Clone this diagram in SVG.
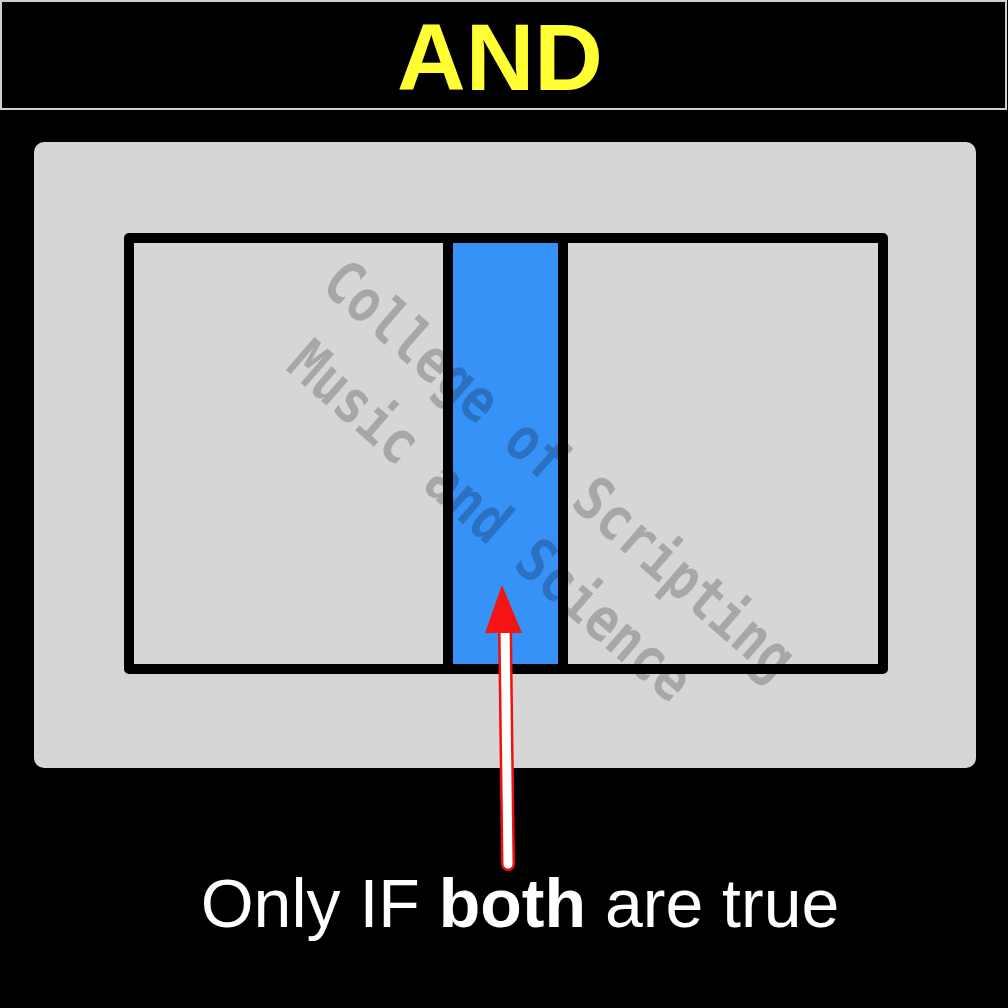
<svg xmlns="http://www.w3.org/2000/svg" width="1008" height="1008" viewBox="0 0 1008 1008">
<style>
.box{fill:none;stroke:#000;stroke-width:10;stroke-linejoin:round}
.wm{font-family:"DejaVu Sans Mono",monospace;font-weight:bold;font-size:50px;fill:#000;fill-opacity:0.22}
.lbl{font-family:"Liberation Sans",Arial,sans-serif;font-size:68px;fill:#fff}
</style>
<rect x="0" y="0" width="1008" height="1008" fill="#000"/>
<g id="header">
<rect x="1" y="1" width="1005" height="108" fill="#000" stroke="#cfcfcf" stroke-width="2"/>
<text x="500" y="90" text-anchor="middle" font-family="Liberation Sans, Arial, sans-serif" font-weight="bold" font-size="95" fill="#ffff33">AND</text>
</g>
<g id="panel">
<rect x="34" y="142" width="942" height="626" rx="10" fill="#d6d6d6"/>
</g>
<g id="intersection">
<rect x="448" y="238" width="115" height="431" fill="#3792f8"/>
</g>
<g id="setA">
<path class="box" d="M563 238 H129 V669 H563"/>
</g>
<g id="setB">
<path class="box" d="M448 238 H883 V669 H448"/>
<line class="box" x1="448" y1="238" x2="448" y2="669"/>
<line class="box" x1="563" y1="238" x2="563" y2="669"/>
</g>
<g id="watermark" transform="translate(343,283) rotate(41) scale(1,1.2)">
<text class="wm" x="-15" y="16">College of Scripting</text>
<text class="wm" x="12" y="86">Music and Science</text>
</g>
<g id="connectors">
<line x1="508" y1="864" x2="505" y2="628" stroke="#f01010" stroke-width="14" stroke-linecap="round"/>
<line x1="508" y1="864" x2="505" y2="626" stroke="#fff" stroke-width="9" stroke-linecap="round"/>
<polygon points="502,585 485,633 522,633" fill="#f41414"/>
</g>
<g id="label">
<text class="lbl" x="520" y="927" text-anchor="middle">Only IF <tspan font-weight="bold">both</tspan> are true</text>
</g>
</svg>
